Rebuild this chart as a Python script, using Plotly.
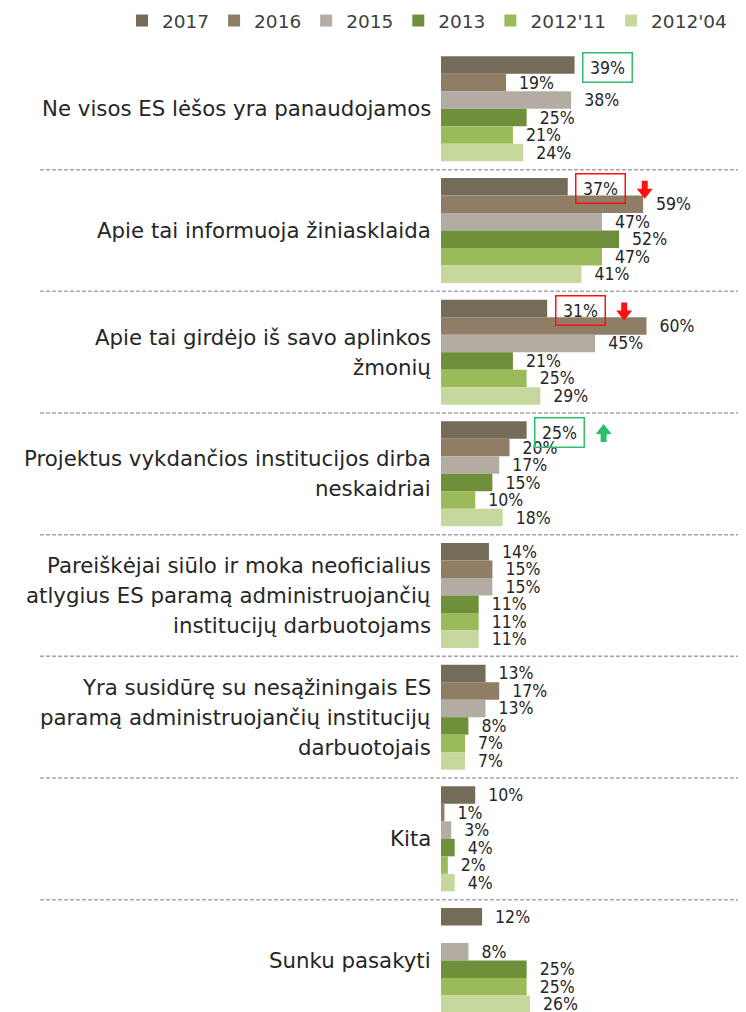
import plotly.graph_objects as go

categories = [
    "Ne visos ES lėšos yra panaudojamos",
    "Apie tai informuoja žiniasklaida",
    "Apie tai girdėjo iš savo aplinkos<br>žmonių",
    "Projektus vykdančios institucijos dirba<br>neskaidriai",
    "Pareiškėjai siūlo ir moka neoficialius<br>atlygius ES paramą administruojančių<br>institucijų darbuotojams",
    "Yra susidūrę su nesąžiningais ES<br>paramą administruojančių institucijų<br>darbuotojais",
    "Kita",
    "Sunku pasakyti",
]
series_names = ["2017", "2016", "2015", "2013", "2012'11", "2012'04"]
v2017 = [39, 37, 31, 25, 14, 13, 10, 12]
v2016 = [19, 59, 60, 20, 15, 17, 1, None]
v2015 = [38, 47, 45, 17, 15, 13, 3, 8]
v2013 = [25, 52, 21, 15, 11, 8, 4, 25]
v2012_11 = [21, 47, 25, 10, 11, 7, 2, 25]
v2012_04 = [24, 41, 29, 18, 11, 7, 4, 26]
values = [v2017, v2016, v2015, v2013, v2012_11, v2012_04]
colors = ["#746B59", "#8F7D66", "#B3ACA2", "#6F8F3A", "#9BBA59", "#C6D89D"]

# highlighted 2017 values: category index -> (box colour, arrow direction)
highlights = {0: ("#2DBE6C", None), 1: ("#FF1010", "down"), 2: ("#FF1010", "down"), 3: ("#2DBE6C", "up")}

NARROW = "Liberation Sans Narrow, Arial Narrow, DejaVu Sans Condensed, sans-serif"
LABELF = "DejaVu Sans, Century Gothic, sans-serif"
NBSP = "\u00a0"

# the page body adds an 8px offset; figure is sized to fill the rest
FW, FH = 738, 1004
ML, MT = 433, 40
PW = FW - ML
PH = FH - MT
PX_PER_PCT = 3.425
PX_PER_CAT = 121.67

ys = list(range(len(categories)))
fig = go.Figure()
for k, (name, vals, col) in enumerate(zip(series_names, values, colors)):
    texts = []
    for i, v in enumerate(vals):
        if v is None or (k == 0 and i in highlights):
            texts.append("")
        else:
            texts.append(NBSP * 2 + f"{v}%")
    fig.add_trace(go.Bar(
        name=name, y=ys, x=vals, orientation="h",
        marker=dict(color=col, line=dict(width=0)),
        text=texts, textposition="outside", cliponaxis=False,
        constraintext="none",
        textfont=dict(family=NARROW, size=17.5, color="#262626"),
    ))

annotations = []
shapes = []
nser = len(series_names)
bw = (1 - 0.137) / nser
off2017 = -(1 - 0.137) / 2 + bw / 2
for i, cat in enumerate(categories):
    lines = cat.split("<br>")
    n = len(lines)
    for j, ln in enumerate(lines):
        annotations.append(dict(
            x=0, y=i, xref="x", yref="y", text=ln, showarrow=False,
            xanchor="right", yanchor="middle", xshift=-8,
            yshift=((n - 1) / 2 - j) * 30,
            font=dict(family=LABELF, size=21.3, color="#262626"),
        ))
for i, (bcol, arrow) in highlights.items():
    v = v2017[i]
    annotations.append(dict(
        x=v, y=i + off2017, xref="x", yref="y", text=f"{v}%", showarrow=False,
        xanchor="center", yanchor="middle", xshift=33, yshift=-2,
        width=44, height=24, borderpad=2, borderwidth=1.5, bordercolor=bcol,
        font=dict(family=NARROW, size=17.5, color="#262626"),
    ))
    if arrow == "down":
        path = "M-3,9 L3,9 L3,1 L8,1 L0,-9 L-8,1 L-3,1 Z"
    elif arrow == "up":
        path = "M-3,-9 L3,-9 L3,-1 L8,-1 L0,9 L-8,-1 L-3,-1 Z"
    else:
        path = None
    if path:
        shapes.append(dict(
            type="path", xref="x", yref="y", xsizemode="pixel", ysizemode="pixel",
            xanchor=v + 77 / PX_PER_PCT, yanchor=i + off2017 + 3 / PX_PER_CAT, path=path,
            fillcolor=bcol, line=dict(width=0),
        ))

for i in range(len(categories) - 1):
    shapes.append(dict(
        type="line", xref="paper", yref="y", x0=(32 - ML) / PW, x1=1,
        y0=i + 0.5, y1=i + 0.5,
        line=dict(color="#A6A6A6", width=1.5, dash="4px,2px"),
    ))

fig.update_layout(
    width=FW, height=FH,
    margin=dict(l=ML, r=0, t=MT, b=0, autoexpand=False),
    barmode="group", bargap=0.137, bargroupgap=0,
    plot_bgcolor="white", paper_bgcolor="white",
    xaxis=dict(range=[0, PW / PX_PER_PCT], visible=False),
    yaxis=dict(range=[-0.5 + PH / PX_PER_CAT, -0.5], visible=False),
    showlegend=True,
    legend=dict(
        orientation="h", xref="paper", yref="paper",
        x=(114 - ML) / PW, xanchor="left", y=1 + (MT - 13) / PH, yanchor="middle",
        font=dict(family=LABELF, size=18.5, color="#404040"),
        itemwidth=30, traceorder="normal", bgcolor="rgba(0,0,0,0)",
    ),
    annotations=annotations, shapes=shapes,
)
fig.write_html("out.html")
